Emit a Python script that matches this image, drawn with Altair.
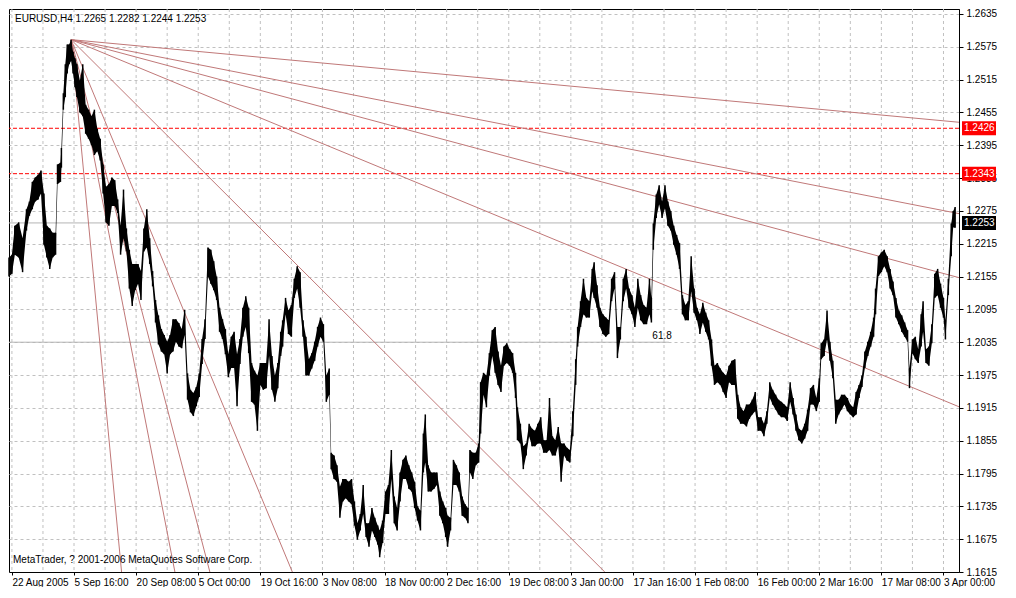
import altair as alt
import pandas as pd

W, H = 950, 563
FONT = "Liberation Sans"
FS = 10

# ---- H4 bars: bar index, high, low ----
bars = [
    0, 3, 6, 10, 14, 18, 21, 24, 27, 30,
    33, 36, 39, 42, 45, 48, 50, 53, 54, 56,
    58, 60, 62, 64, 66, 68, 70, 73, 76, 79,
    82, 85, 88, 91, 94, 97, 100, 103, 106, 109,
    112, 115, 118, 121, 124, 127, 130, 133, 136, 139,
    142, 145, 148, 151, 154, 157, 160, 163, 166, 169,
    172, 175, 178, 181, 184, 187, 190, 193, 196, 199,
    202, 205, 208, 211, 214, 217, 220, 223, 226, 229,
    232, 235, 238, 241, 244, 247, 250, 253, 256, 259,
    262, 265, 268, 271, 274, 277, 280, 282, 285, 288,
    291, 294, 297, 300, 303, 306, 309, 312, 315, 318,
    321, 324, 327, 330, 332, 335, 338, 341, 344, 347,
    350, 353, 356, 359, 362, 365, 368, 371, 374, 377,
    380, 382, 385, 388, 391, 394, 397, 400, 403, 406,
    409, 412, 415, 418, 421, 424, 427, 429, 432, 435,
    438, 441, 444, 447, 450, 452, 455, 458, 461, 464,
    467, 470, 473, 475, 478, 481, 484, 486, 489, 492,
    495, 498, 501, 504, 507, 510, 513, 516, 519, 522,
    524, 527, 530, 533, 536, 539, 542, 545, 548, 551,
    554, 557, 560, 563, 566, 569, 572, 575, 578, 581,
    584, 586, 589, 592, 595, 598, 601, 603, 606, 609,
    612, 615, 618, 621, 624, 627, 630, 633, 636, 639,
    642, 645, 648, 651, 654, 657, 660, 662, 664, 667,
    670, 673, 676, 679, 682, 685, 688, 691, 694, 697,
    700, 703, 706, 709, 712, 715, 718, 721, 724, 727,
    730, 733, 736, 739, 742, 745, 748, 751, 754, 757,
    760, 763, 766, 769, 772, 775, 778, 781, 784, 787,
    790, 793, 796, 799, 802, 805, 808, 811, 814, 817,
    820, 823, 826, 829, 832, 835, 837, 840, 843, 846,
    849, 852, 855, 858, 861, 864, 867, 870, 873, 876,
    879, 882, 885, 888, 891, 893, 896, 899, 902, 905,
    908, 911, 914, 917, 920, 923, 926, 928, 931, 934,
    937, 940, 942, 945, 948, 951, 954, 957, 960, 963,
    965, 968, 971, 973, 975,
]
highs = [
    1.2190, 1.2195, 1.2248, 1.2254, 1.2225, 1.2278, 1.2292, 1.2328, 1.2336, 1.2341,
    1.2349, 1.2307, 1.2248, 1.2243, 1.2235, 1.2235, 1.2360, 1.2363, 1.2390, 1.2490,
    1.2543, 1.2579, 1.2579, 1.2588, 1.2566, 1.2554, 1.2543, 1.2513, 1.2543, 1.2469,
    1.2460, 1.2448, 1.2460, 1.2425, 1.2407, 1.2360, 1.2319, 1.2324, 1.2336, 1.2331,
    1.2296, 1.2248, 1.2314, 1.2243, 1.2204, 1.2178, 1.2178, 1.2178, 1.2165, 1.2243,
    1.2278, 1.2225, 1.2165, 1.2112, 1.2084, 1.2059, 1.2048, 1.2036, 1.2048, 1.2077,
    1.2077, 1.2070, 1.2059, 1.2094, 1.1978, 1.1948, 1.1942, 1.1953, 1.1978, 1.2041,
    1.2077, 1.2208, 1.2204, 1.2183, 1.2155, 1.2098, 1.2077, 1.2059, 1.2013, 1.2045,
    1.2054, 1.2013, 1.2041, 1.2098, 1.2119, 1.2098, 1.1997, 1.1983, 1.1974, 1.1997,
    1.1997, 1.1997, 1.2077, 1.2010, 1.1974, 1.1997, 1.2054, 1.2075, 1.2116, 1.2093,
    1.2103, 1.2151, 1.2174, 1.2163, 1.2075, 1.2045, 1.2004, 1.2015, 1.2036, 1.2063,
    1.2080, 1.2068, 1.1974, 1.1987, 1.1833, 1.1828, 1.1810, 1.1771, 1.1785, 1.1785,
    1.1780, 1.1785, 1.1744, 1.1704, 1.1721, 1.1774, 1.1704, 1.1704, 1.1732, 1.1714,
    1.1700, 1.1691, 1.1709, 1.1762, 1.1774, 1.1838, 1.1753, 1.1732, 1.1797, 1.1820,
    1.1828, 1.1810, 1.1797, 1.1780, 1.1735, 1.1727, 1.1868, 1.1903, 1.1810, 1.1797,
    1.1797, 1.1797, 1.1762, 1.1744, 1.1732, 1.1718, 1.1714, 1.1820, 1.1810, 1.1797,
    1.1753, 1.1739, 1.1732, 1.1838, 1.1833, 1.1833, 1.1850, 1.1962, 1.1979, 1.1974,
    1.2015, 1.2057, 1.2063, 1.2018, 1.1992, 1.2027, 1.2033, 1.2022, 1.2015, 1.1979,
    1.1916, 1.1886, 1.1845, 1.1850, 1.1886, 1.1877, 1.1873, 1.1886, 1.1898, 1.1856,
    1.1856, 1.1933, 1.1863, 1.1856, 1.1880, 1.1850, 1.1850, 1.1842, 1.1838, 1.1909,
    1.2004, 1.2063, 1.2110, 1.2151, 1.2116, 1.2110, 1.2169, 1.2181, 1.2139, 1.2098,
    1.2086, 1.2080, 1.2075, 1.2151, 1.2163, 1.2063, 1.2063, 1.2151, 1.2169, 1.2133,
    1.2121, 1.2098, 1.2151, 1.2121, 1.2103, 1.2098, 1.2151, 1.2116, 1.2252, 1.2305,
    1.2322, 1.2292, 1.2322, 1.2292, 1.2275, 1.2248, 1.2231, 1.2216, 1.2121, 1.2103,
    1.2110, 1.2192, 1.2133, 1.2098, 1.2086, 1.2107, 1.2089, 1.2075, 1.2040, 1.1992,
    1.1997, 1.1987, 1.1979, 1.1974, 1.1992, 1.2001, 1.2004, 1.1939, 1.1916, 1.1909,
    1.1921, 1.1921, 1.1930, 1.1944, 1.1898, 1.1898, 1.1886, 1.1909, 1.1962, 1.1948,
    1.1939, 1.1930, 1.1926, 1.1921, 1.1916, 1.1962, 1.1933, 1.1903, 1.1877, 1.1873,
    1.1886, 1.1912, 1.1951, 1.1957, 1.1933, 1.1969, 1.2033, 1.2040, 1.2093, 1.2036,
    1.2001, 1.1930, 1.1930, 1.1939, 1.1939, 1.1933, 1.1921, 1.1916, 1.1944, 1.1957,
    1.1974, 1.2018, 1.2036, 1.2054, 1.2080, 1.2133, 1.2192, 1.2199, 1.2204, 1.2192,
    1.2169, 1.2146, 1.2116, 1.2093, 1.2084, 1.2071, 1.2057, 1.1987, 1.2040, 1.2045,
    1.2022, 1.2086, 1.2110, 1.2022, 1.2027, 1.2068, 1.2160, 1.2169, 1.2142, 1.2116,
    1.2075, 1.2151, 1.2252, 1.2275, 1.2282,
]
lows = [
    1.2155, 1.2160, 1.2195, 1.2190, 1.2163, 1.2239, 1.2266, 1.2278, 1.2292, 1.2296,
    1.2307, 1.2213, 1.2190, 1.2169, 1.2190, 1.2195, 1.2324, 1.2328, 1.2354, 1.2460,
    1.2483, 1.2526, 1.2543, 1.2549, 1.2526, 1.2501, 1.2483, 1.2455, 1.2448, 1.2416,
    1.2407, 1.2395, 1.2377, 1.2384, 1.2367, 1.2307, 1.2254, 1.2248, 1.2284, 1.2284,
    1.2271, 1.2195, 1.2225, 1.2201, 1.2133, 1.2101, 1.2130, 1.2142, 1.2112, 1.2201,
    1.2208, 1.2178, 1.2137, 1.2071, 1.2031, 1.2018, 1.2013, 1.1978, 1.2013, 1.2018,
    1.2036, 1.2027, 1.2024, 1.2048, 1.1930, 1.1907, 1.1900, 1.1918, 1.1935, 1.1995,
    1.2041, 1.2155, 1.2142, 1.2130, 1.2112, 1.2054, 1.2041, 1.2013, 1.1971, 1.1988,
    1.1988, 1.1918, 1.1995, 1.2045, 1.2063, 1.2015, 1.1926, 1.1921, 1.1873, 1.1957,
    1.1948, 1.1951, 1.2010, 1.1948, 1.1926, 1.1951, 1.2010, 1.2027, 1.2086, 1.2050,
    1.2045, 1.2116, 1.2133, 1.2098, 1.2045, 1.1974, 1.1974, 1.1987, 1.2001, 1.2027,
    1.2045, 1.2036, 1.1926, 1.1939, 1.1803, 1.1785, 1.1780, 1.1714, 1.1744, 1.1750,
    1.1744, 1.1739, 1.1700, 1.1674, 1.1691, 1.1721, 1.1679, 1.1661, 1.1691, 1.1679,
    1.1665, 1.1642, 1.1668, 1.1721, 1.1721, 1.1785, 1.1704, 1.1691, 1.1744, 1.1785,
    1.1785, 1.1767, 1.1762, 1.1732, 1.1709, 1.1691, 1.1797, 1.1815, 1.1762, 1.1762,
    1.1767, 1.1774, 1.1718, 1.1704, 1.1679, 1.1661, 1.1691, 1.1774, 1.1774, 1.1762,
    1.1718, 1.1714, 1.1704, 1.1797, 1.1785, 1.1810, 1.1815, 1.1868, 1.1939, 1.1916,
    1.1974, 1.2010, 1.1979, 1.1957, 1.1944, 1.1992, 1.1997, 1.1992, 1.1979, 1.1933,
    1.1856, 1.1850, 1.1803, 1.1828, 1.1863, 1.1845, 1.1845, 1.1850, 1.1850, 1.1833,
    1.1833, 1.1838, 1.1828, 1.1828, 1.1845, 1.1780, 1.1828, 1.1819, 1.1815, 1.1863,
    1.1957, 1.2027, 1.2063, 1.2086, 1.2080, 1.2080, 1.2128, 1.2116, 1.2098, 1.2063,
    1.2050, 1.2045, 1.2050, 1.2110, 1.2133, 1.2006, 1.2040, 1.2110, 1.2133, 1.2098,
    1.2086, 1.2063, 1.2098, 1.2075, 1.2068, 1.2068, 1.2086, 1.2071, 1.2204, 1.2262,
    1.2287, 1.2262, 1.2280, 1.2248, 1.2239, 1.2213, 1.2195, 1.2169, 1.2086, 1.2075,
    1.2075, 1.2128, 1.2089, 1.2075, 1.2050, 1.2071, 1.2054, 1.2040, 1.1992, 1.1957,
    1.1962, 1.1957, 1.1944, 1.1933, 1.1962, 1.1957, 1.1957, 1.1895, 1.1886, 1.1886,
    1.1881, 1.1895, 1.1903, 1.1909, 1.1873, 1.1873, 1.1863, 1.1886, 1.1933, 1.1921,
    1.1912, 1.1903, 1.1898, 1.1898, 1.1891, 1.1926, 1.1903, 1.1873, 1.1856, 1.1850,
    1.1859, 1.1873, 1.1921, 1.1921, 1.1909, 1.1926, 1.2004, 1.2010, 1.2040, 1.2001,
    1.1969, 1.1886, 1.1903, 1.1912, 1.1921, 1.1909, 1.1903, 1.1898, 1.1903, 1.1933,
    1.1953, 1.1988, 1.2010, 1.2027, 1.2045, 1.2086, 1.2156, 1.2163, 1.2174, 1.2163,
    1.2133, 1.2121, 1.2080, 1.2068, 1.2054, 1.2045, 1.2036, 1.1951, 1.2015, 1.2004,
    1.1997, 1.2027, 1.2054, 1.1997, 1.1992, 1.2033, 1.2116, 1.2121, 1.2098, 1.2080,
    1.2040, 1.2121, 1.2192, 1.2245, 1.2244,
]
assert len(bars) == len(highs) == len(lows)

# ---- axes ----
x_tick_bars = [3, 67, 131, 195, 259, 323, 387, 451, 515, 579, 643, 707, 771, 835, 899, 963]
x_tick_labels = ["22 Aug 2005", "5 Sep 16:00", "20 Sep 08:00", "5 Oct 00:00", "19 Oct 16:00",
                 "3 Nov 08:00", "18 Nov 00:00", "2 Dec 16:00", "19 Dec 08:00", "3 Jan 00:00",
                 "17 Jan 16:00", "1 Feb 08:00", "16 Feb 00:00", "2 Mar 16:00", "17 Mar 08:00",
                 "3 Apr 00:00"]
x_grid_bars = [3, 35, 67, 99, 131, 163, 195, 227, 259, 291, 323, 355, 387, 419, 451, 483,
               515, 547, 579, 611, 643, 675, 707, 739, 771, 803, 835, 867, 899, 931, 963]
y_ticks = [1.2635, 1.2575, 1.2515, 1.2455, 1.2395, 1.2335, 1.2275, 1.2215, 1.2155,
           1.2095, 1.2035, 1.1975, 1.1915, 1.1855, 1.1795, 1.1735, 1.1675, 1.1615]

# ---- Fibonacci fan (origin at the top, ends where each ray leaves the chart) ----
fan_origin_bar = 64
fan_origin_price = 1.2588
fan_end_bars = [979, 979, 979, 979, 614, 292, 207, 171, 116]
fan_end_prices = [1.2437, 1.2270, 1.2153, 1.1917, 1.1615, 1.1615, 1.1615, 1.1615, 1.1615]

# ---- horizontal levels ----
red_levels = [1.2426, 1.2343]
bid_price = 1.2253
fib_level_price = 1.2035
fib_level_end_bar = 680
fib_label = "61.8"
fib_label_bar = 663

header = "EURUSD,H4  1.2265 1.2282 1.2244 1.2253"
copyright_text = "MetaTrader, ? 2001-2006 MetaQuotes Software Corp."

# ---- tables ----
price_df = pd.DataFrame({"bar": bars, "high": highs, "low": lows})
fan_rows = []
for i, (eb, ep) in enumerate(zip(fan_end_bars, fan_end_prices)):
    fan_rows.append({"line": i, "bar": fan_origin_bar, "price": fan_origin_price})
    fan_rows.append({"line": i, "bar": eb, "price": ep})
fan_df = pd.DataFrame(fan_rows)
grid_df = pd.DataFrame({"bar": x_grid_bars})
hl_df = pd.DataFrame({"bar": [0, 0], "b1": [979, fib_level_end_bar],
                      "price": [bid_price, fib_level_price]})
red_df = pd.DataFrame({"price": red_levels})
box_df = pd.DataFrame({"price": red_levels + [bid_price],
                       "kind": ["red", "red", "bid"],
                       "label": [f"{p:.4f}" for p in red_levels + [bid_price]]})

xs = alt.Scale(domain=[0, 979], nice=False, zero=False)
ys = alt.Scale(domain=[1.1615, 1.2644], nice=False, zero=False)

labels_js = "[" + ",".join("'" + s + "'" for s in x_tick_labels) + "]"
bars_js = "[" + ",".join(str(b) for b in x_tick_bars) + "]"
x_axis = alt.Axis(values=x_tick_bars, labelExpr=f"{labels_js}[indexof({bars_js}, datum.value)]",
                  grid=False, title=None, labelAlign="left", labelBaseline="top",
                  labelPadding=2, tickSize=3, labelOverlap=False, labelFlush=False,
                  domainColor="black", tickColor="black")
y_axis = alt.Axis(orient="right", values=y_ticks, format=".4f", title=None, grid=True,
                  gridDash=[3, 3], gridColor="#c0c0c0", tickSize=4, labelPadding=3,
                  labelAlign="left", labelBaseline="middle", labelOverlap=False,
                  labelFlush=False, labelBound=False,
                  domainColor="black", tickColor="black")


def X(field):
    return alt.X(field, type="quantitative", scale=xs, axis=x_axis)


def Y(field):
    return alt.Y(field, type="quantitative", scale=ys, axis=y_axis)


grid = alt.Chart(grid_df).mark_rule(color="#c0c0c0", strokeDash=[3, 3], strokeWidth=1).encode(
    x=X("bar"), y=alt.value(0), y2=alt.value(H),
)

hl = alt.Chart(hl_df).mark_rule(color="#b4b4b4", strokeWidth=1).encode(
    x=X("bar"), x2="b1:Q", y=Y("price"),
)

red = alt.Chart(red_df).mark_rule(color="#ff0000", strokeDash=[4, 2], strokeWidth=1).encode(
    y=Y("price"),
)

fan = alt.Chart(fan_df).mark_line(color="#c07878", strokeWidth=1, clip=True).encode(
    x=X("bar"), y=Y("price"), detail="line:N",
)

area = alt.Chart(price_df).mark_area(color="black", clip=True).encode(
    x=X("bar"), y=Y("high"), y2="low:Q",
)
rules = alt.Chart(price_df).mark_rule(color="black", strokeWidth=1.5).encode(
    x=X("bar"), y=Y("high"), y2="low:Q",
)

fib_txt = alt.Chart(pd.DataFrame({"bar": [fib_label_bar], "price": [fib_level_price],
                                  "t": [fib_label]})).mark_text(
    align="left", baseline="bottom", dy=-1, font=FONT, fontSize=FS, color="black"
).encode(x=X("bar"), y=Y("price"), text="t:N")

head = alt.Chart(pd.DataFrame({"t": [header]})).mark_text(
    align="left", baseline="middle", font=FONT, fontSize=FS, color="black"
).encode(x=alt.value(6), y=alt.value(10), text="t:N")

copy = alt.Chart(pd.DataFrame({"t": [copyright_text]})).mark_text(
    align="left", baseline="middle", font=FONT, fontSize=FS, color="black"
).encode(x=alt.value(4), y=alt.value(H - 12), text="t:N")

boxes = alt.Chart(box_df).mark_tick(orient="horizontal", size=34, thickness=14, opacity=1).encode(
    x=alt.value(W + 20), y=Y("price"),
    color=alt.Color("kind:N", scale=alt.Scale(domain=["red", "bid"], range=["#ff0000", "#000000"]),
                    legend=None),
)
box_txt = alt.Chart(box_df).mark_text(
    align="left", baseline="middle", font=FONT, fontSize=FS, color="white"
).encode(x=alt.value(W + 5), y=Y("price"), text="label:N")

chart = alt.layer(grid, hl, red, fan, area, rules, fib_txt, head, copy, boxes, box_txt).properties(
    width=W, height=H, padding={"left": 0, "top": 0, "right": 0, "bottom": 0},
    background="white",
).configure_view(stroke="black", strokeWidth=1).configure_axis(
    labelFont=FONT, labelFontSize=FS, labelColor="black", labelOverlap=False
)

chart.save("out.html", embed_options={"renderer": "svg", "actions": False})
